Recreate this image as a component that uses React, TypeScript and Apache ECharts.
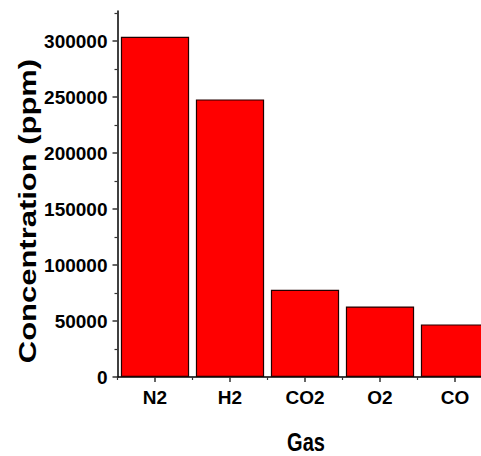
import React, { useEffect, useRef } from "react";
import * as echarts from "echarts";

// Gas concentrations in ppm
const categories = ["N2", "H2", "CO2", "O2", "CO"];
const concentrations = [304000, 248000, 78000, 63000, 47000];

// Y axis range and tick positions
const yMin = 0;
const yMax = 327000;
const majorTicks = [0, 50000, 100000, 150000, 200000, 250000, 300000];
const minorTicks = [25000, 75000, 125000, 175000, 225000, 275000, 325000];

const xTitle = "Gas";
const yTitle = "Concentration (ppm)";

const FONT = "'Liberation Sans', Arial, sans-serif";

export default function App() {
  const ref = useRef<HTMLDivElement>(null);

  useEffect(() => {
    if (!ref.current) return;
    const chart = echarts.init(ref.current, null, { renderer: "svg" });
    const axisColor = "#000";
    const tickColor = "#333";
    chart.setOption({
      animation: false,
      backgroundColor: "#fff",
      // the plot runs past the right edge of the canvas, cutting the last bar
      grid: {
        left: 117.5,
        width: 375,
        top: 11,
        height: 366,
        containLabel: false,
        outerBoundsMode: "none",
      },
      xAxis: [
        {
          type: "category",
          data: categories,
          axisLine: { show: true, lineStyle: { color: axisColor, width: 1.5 } },
          axisTick: { show: true, alignWithLabel: true, length: 5, lineStyle: { color: tickColor, width: 1.5 } },
          axisLabel: {
            show: true,
            margin: 11,
            color: "#000",
            fontFamily: FONT,
            fontWeight: "bold",
            fontSize: 19,
          },
          splitLine: { show: false },
        },
        {
          type: "category",
          data: categories,
          position: "bottom",
          axisLine: { show: false },
          axisTick: { show: true, alignWithLabel: false, length: 3, lineStyle: { color: tickColor, width: 1.2 } },
          axisLabel: { show: false },
          splitLine: { show: false },
        },
      ],
      yAxis: [
        {
          type: "value",
          min: yMin,
          max: yMax,
          axisLine: { show: true, lineStyle: { color: axisColor, width: 1.5 } },
          axisTick: { show: true, length: 5, customValues: majorTicks, lineStyle: { color: tickColor, width: 1.5 } },
          axisLabel: {
            show: true,
            customValues: majorTicks,
            formatter: (v: number) => String(v),
            margin: 10,
            color: "#000",
            fontFamily: FONT,
            fontWeight: "bold",
            fontSize: 19,
          },
          splitLine: { show: false },
        },
        {
          type: "value",
          min: yMin,
          max: yMax,
          position: "left",
          axisLine: { show: false },
          axisTick: { show: true, length: 3, customValues: minorTicks, lineStyle: { color: tickColor, width: 1.2 } },
          axisLabel: { show: false },
          splitLine: { show: false },
        },
      ],
      series: [
        {
          type: "bar",
          xAxisIndex: 0,
          yAxisIndex: 0,
          data: concentrations,
          barCategoryGap: "9%",
          itemStyle: { color: "#ff0000", borderColor: "#220000", borderWidth: 1.2 },
        },
      ],
      graphic: [
        {
          type: "text",
          x: 28,
          y: 211,
          rotation: Math.PI / 2,
          scaleX: 1.29,
          style: {
            text: yTitle,
            fill: "#000",
            font: `bold 24px ${FONT}`,
            align: "center",
            verticalAlign: "middle",
          },
        },
        {
          type: "text",
          x: 306,
          y: 442,
          scaleY: 1.28,
          style: {
            text: xTitle,
            fill: "#000",
            font: `bold 20px ${FONT}`,
            align: "center",
            verticalAlign: "middle",
          },
        },
      ],
    });
    return () => chart.dispose();
  }, []);

  return <div ref={ref} style={{ width: 481, height: 456, position: "absolute", left: 0, top: 0 }} />;
}
